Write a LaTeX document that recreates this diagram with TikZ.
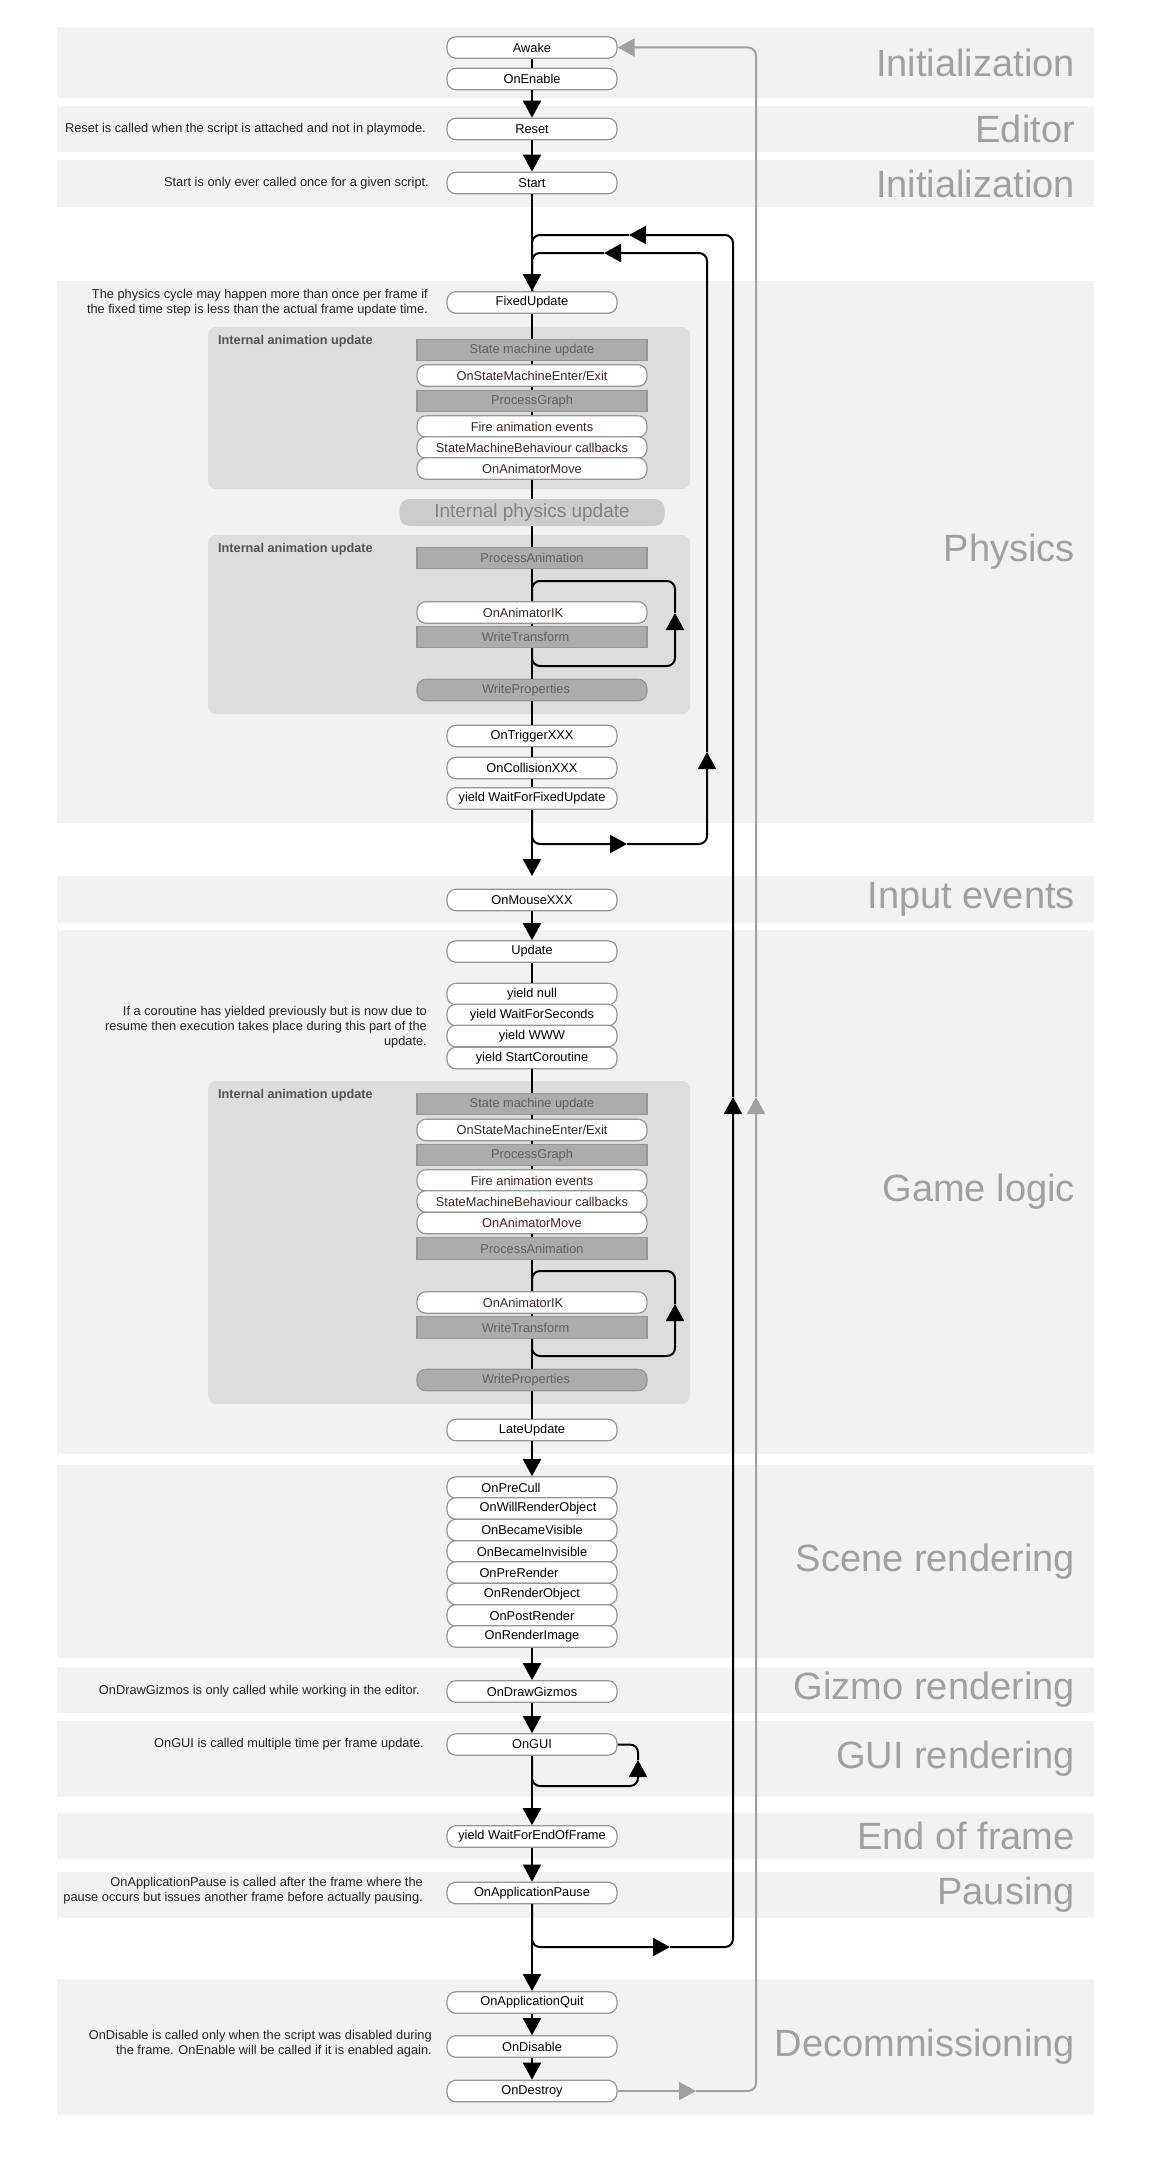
\documentclass[tikz,border=0pt]{standalone}
\usepackage{fontspec}
\setmainfont{Liberation Sans}
\usepackage{tikz}
\usetikzlibrary{arrows.meta,positioning}
\definecolor{bandbg}{RGB}{242,242,242}
\definecolor{grpbg}{RGB}{221,221,221}
\definecolor{boxline}{RGB}{150,150,150}
\definecolor{anfill}{RGB}{172,172,172}
\definecolor{antext}{RGB}{95,95,95}
\definecolor{evtext}{RGB}{62,36,36}
\definecolor{seclab}{RGB}{160,160,160}
\definecolor{loopgray}{RGB}{160,160,160}
\definecolor{ipufill}{RGB}{204,204,204}
\definecolor{iputext}{RGB}{130,130,130}
\definecolor{notetext}{RGB}{35,35,35}
\newcommand{\nudge}[2]{\hspace*{#1}#2}

\begin{document}
\begin{tikzpicture}[x=1pt,y=-1pt,
      txt/.style={font=\fontsize{12.8}{15}\selectfont},
      fn/.style={txt,draw=boxline,line width=1.2pt,fill=white,rounded corners=9pt,
                 minimum width=170pt,minimum height=21.5pt,inner sep=0pt},
      aw/.style={fn,minimum width=230pt,text=evtext},
      an/.style={fn,minimum width=230pt,rounded corners=0pt,fill=anfill,text=antext},
      ap/.style={an,rounded corners=9pt},
      note/.style={txt,anchor=east,align=right,inner sep=0pt,text=notetext},
      sec/.style={anchor=east,inner sep=0pt,text=seclab,font=\fontsize{38}{40}\selectfont},
      grplab/.style={anchor=west,inner sep=0pt,text=black!68,font=\bfseries\fontsize{12.7}{14}\selectfont},
      ln/.style={line width=2pt,black},
      arr/.style={ln,-{Triangle[length=17pt,width=18pt]}},
      lk/.style={arr,rounded corners=8pt},
      gk/.style={line width=2pt,loopgray,rounded corners=8pt,-{Triangle[length=17pt,width=18pt]}}]
      \useasboundingbox (0,0) rectangle (1151,2173);
      % Bands
      \foreach \ya/\yb/\lab in {27/98/Initialization,106/152/Editor,160/207/Initialization,
          281/823/Physics,876/923/Input events,930/1454/Game logic,1465/1658/Scene rendering,
          1667/1713/Gizmo rendering,1721/1797/GUI rendering,1813/1859/End of frame,
          1872/1918/Pausing,1979/2115/Decommissioning}{
        \fill[bandbg] (57,\ya) rectangle (1094,\yb);
        \node[sec] (sec\ya) at (1075,{(\ya+\yb)/2}) {\lab};
      }
      % Animation groups
      \fill[grpbg,rounded corners=8pt] (208,327) rectangle (690,489);
      \fill[grpbg,rounded corners=8pt] (208,535) rectangle (690,714);
      \fill[grpbg,rounded corners=8pt] (208,1081) rectangle (690,1404);
      \node[grplab] (grp1) at (218,341) {Internal animation update};
      \node[grplab] (grp2) at (218,549) {Internal animation update};
      \node[grplab] (grp3) at (218,1095) {Internal animation update};
      % Initialization / Editor
      \node[fn] (awake) at (532,47.5) {Awake};
      \node[fn] (onenable) at (532,79) {OnEnable};
      \node[fn] (reset) at (532,129) {Reset};
      \node[note] (resetnote) at (426,129) {Reset is called when the script is attached and not in playmode.};
      \node[fn] (start) at (532,183) {Start};
      \node[note] (startnote) at (429,183) {Start is only ever called once for a given script.};
      % Physics
      \node[fn] (fixed) at (532,302.5) {FixedUpdate};
      \node[note] (fixednote) at (428,302.5) {The physics cycle may happen more than once per frame if\\the fixed time step is less than the actual frame update time.};
      \node[an] (smu1) at (532,350) {State machine update};
      \node[aw] (osm1) at (532,375.5) {OnStateMachineEnter/Exit};
      \node[an] (pg1) at (532,401) {ProcessGraph};
      \node[aw] (fae1) at (532,426.5) {Fire animation events};
      \node[aw] (smb1) at (532,447.5) {StateMachineBehaviour callbacks};
      \node[aw] (oam1) at (532,468.5) {OnAnimatorMove};
      \node[fill=ipufill,text=iputext,rounded corners=10pt,minimum width=265pt,minimum height=27pt,
            inner sep=0pt,font=\fontsize{19}{22}\selectfont] (ipu) at (532,512.5) {Internal physics update};
      \node[an] (pa2) at (532,558) {ProcessAnimation};
      \node[aw] (oik2) at (532,612.5) {\nudge{-18pt}{OnAnimatorIK}};
      \node[an] (wt2) at (532,637) {\nudge{-13pt}{WriteTransform}};
      \node[ap] (wp2) at (532,690) {\nudge{-12pt}{WriteProperties}};
      \node[fn] (ontrig) at (532,736) {OnTriggerXXX};
      \node[fn] (oncoll) at (532,768) {OnCollisionXXX};
      \node[fn] (wffu) at (532,798.5) {yield WaitForFixedUpdate};
      % Input events
      \node[fn] (mouse) at (532,900) {OnMouseXXX};
      % Game logic
      \node[fn] (update) at (532,951.5) {Update};
      \node[fn] (ynull) at (532,994) {yield null};
      \node[fn] (ywfs) at (532,1015) {yield WaitForSeconds};
      \node[fn] (ywww) at (532,1036) {yield WWW};
      \node[fn] (ysc) at (532,1058) {yield StartCoroutine};
      \node[note] (ynote) at (427,1027) {If a coroutine has yielded previously but is now due to\\resume then execution takes place during this part of the\\update.};
      \node[an] (smu3) at (532,1104) {State machine update};
      \node[aw] (osm3) at (532,1130) {OnStateMachineEnter/Exit};
      \node[an] (pg3) at (532,1155) {ProcessGraph};
      \node[aw] (fae3) at (532,1180.5) {Fire animation events};
      \node[aw] (smb3) at (532,1201.5) {StateMachineBehaviour callbacks};
      \node[aw] (oam3) at (532,1223) {OnAnimatorMove};
      \node[an] (pa3) at (532,1248.5) {ProcessAnimation};
      \node[aw] (oik3) at (532,1302.5) {\nudge{-18pt}{OnAnimatorIK}};
      \node[an] (wt3) at (532,1327.5) {\nudge{-13pt}{WriteTransform}};
      \node[ap] (wp3) at (532,1380) {\nudge{-12pt}{WriteProperties}};
      \node[fn] (late) at (532,1430) {LateUpdate};
      % Scene rendering
      \node[fn] (precull) at (532,1487.5) {\nudge{-42pt}{OnPreCull}};
      \node[fn] (willrender) at (532,1508.5) {\nudge{12pt}{OnWillRenderObject}};
      \node[fn] (visible) at (532,1530) {OnBecameVisible};
      \node[fn] (invisible) at (532,1551.5) {OnBecameInvisible};
      \node[fn] (prerender) at (532,1572.5) {\nudge{-26pt}{OnPreRender}};
      \node[fn] (renderobj) at (532,1594) {OnRenderObject};
      \node[fn] (postrender) at (532,1615.5) {OnPostRender};
      \node[fn] (renderimg) at (532,1636.5) {OnRenderImage};
      % Gizmo / GUI / end of frame / pausing
      \node[fn] (gizmos) at (532,1691.5) {OnDrawGizmos};
      \node[note] (gizmonote) at (420,1691.5) {OnDrawGizmos is only called while working in the editor.};
      \node[fn] (ongui) at (532,1744.5) {OnGUI};
      \node[note] (guinote) at (424,1744.5) {OnGUI is called multiple time per frame update.};
      \node[fn] (weof) at (532,1836.5) {yield WaitForEndOfFrame};
      \node[fn] (pause) at (532,1893) {OnApplicationPause};
      \node[note] (pausenote) at (423,1891) {OnApplicationPause is called after the frame where the\\pause occurs but issues another frame before actually pausing.};
      % Decommissioning
      \node[fn] (quit) at (532,2002.5) {OnApplicationQuit};
      \node[fn] (disable) at (532,2046.5) {OnDisable};
      \node[note] (disablenote) at (432,2043.5) {OnDisable is called only when the script was disabled during\\the frame. OnEnable will be called if it is enabled again.};
      \node[fn] (destroy) at (532,2091) {OnDestroy};
      % Main flow
      \draw[ln] (awake) -- (onenable);
      \draw[arr] (onenable) -- (reset);
      \draw[arr] (reset) -- (start);
      \draw[arr] (start) -- (fixed);
      \foreach \a/\b in {fixed/smu1,smu1/osm1,osm1/pg1,pg1/fae1,oam1/ipu,ipu/pa2,pa2/oik2,
          oik2/wt2,wt2/wp2,wp2/ontrig,ontrig/oncoll,oncoll/wffu,update/ynull,ysc/smu3,
          smu3/osm3,osm3/pg3,pg3/fae3,oam3/pa3,pa3/oik3,oik3/wt3,wt3/wp3,wp3/late}
        \draw[ln] (\a) -- (\b);
      \coordinate (mtip) at (532,876);
      \draw[arr] (wffu) -- (mtip);
      \foreach \a/\b in {mouse/update,late/precull,renderimg/gizmos,gizmos/ongui,ongui/weof,
          weof/pause,pause/quit,quit/disable,disable/destroy}
        \draw[arr] (\a) -- (\b);
      % Animator IK loops
      \coordinate (l2r) at (675,666);
      \coordinate (l2up) at (675,613);
      \coordinate (l2top) at (675,581);
      \draw[lk] (wt2.south) |- (l2r) -- (l2up);
      \draw[ln,rounded corners=8pt] (l2up) -- (l2top) -| (oik2.north);
      \coordinate (l3r) at (675,1356);
      \coordinate (l3up) at (675,1304);
      \coordinate (l3top) at (675,1271);
      \draw[lk] (wt3.south) |- (l3r) -- (l3up);
      \draw[ln,rounded corners=8pt] (l3up) -- (l3top) -| (oik3.north);
      % OnGUI loop
      \coordinate (guir) at (638,1786);
      \coordinate (guiup) at (638,1760);
      \draw[lk] (ongui.south) |- (guir) -- (guiup);
      \draw[ln,rounded corners=8pt] (guiup) |- (ongui.east);
      % Physics loop
      \coordinate (ftip) at (627,844);
      \coordinate (fup) at (707,752);
      \coordinate (fleft) at (604,253);
      \draw[lk] (wffu.south) |- (ftip);
      \draw[lk] (ftip) -| (fup);
      \draw[lk] (fup) |- (fleft);
      \draw[ln,rounded corners=8pt] (fleft) -| (fixed.north);
      % Frame loop
      \coordinate (otip) at (670,1947);
      \coordinate (oup) at (733,1097);
      \coordinate (oleft) at (629,235);
      \draw[lk] (pause.south) |- (otip);
      \draw[lk] (otip) -| (oup);
      \draw[lk] (oup) |- (oleft);
      \draw[ln,rounded corners=8pt] (oleft) -| (fixed.north);
      % Object lifetime
      \coordinate (gtip) at (696,2091);
      \coordinate (gup) at (756,1097);
      \draw[gk] (destroy.east) -- (gtip);
      \draw[gk] (gtip) -| (gup);
      \draw[gk] (gup) |- (awake.east);
    \end{tikzpicture}
\end{document}
